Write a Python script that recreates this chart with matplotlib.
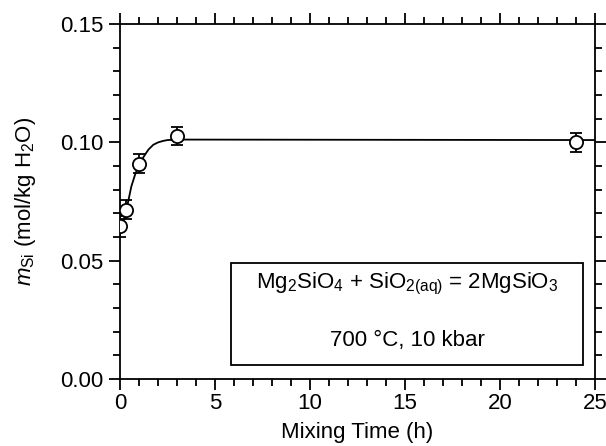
import matplotlib
matplotlib.use("Agg")
import matplotlib.pyplot as plt
from matplotlib.ticker import MultipleLocator, FormatStrFormatter

plt.rcParams['font.family'] = ['Liberation Sans', 'DejaVu Sans']
plt.rcParams['mathtext.fontset'] = 'custom'
plt.rcParams['mathtext.rm'] = 'Liberation Sans'
plt.rcParams['mathtext.it'] = 'Liberation Sans:italic'

# measured data
time_h = [0.0, 0.33, 1.0, 3.0, 24.0]
m_si = [0.0646, 0.0715, 0.0910, 0.1027, 0.1000]
m_err = [0.0045, 0.0040, 0.0040, 0.0040, 0.0040]

# fitted curve
curve_t = [0.0, 0.15, 0.33, 0.6, 0.8, 1.0, 1.25, 1.5, 1.75, 2.0, 2.25, 2.5, 3.0, 25.0]
curve_m = [0.0620, 0.0660, 0.0712, 0.0815, 0.0865, 0.0905, 0.0940, 0.0970,
           0.0990, 0.1000, 0.1006, 0.1010, 0.1012, 0.1010]

xticks = [0, 5, 10, 15, 20, 25]
yticks = [0.00, 0.05, 0.10, 0.15]

fig = plt.figure(figsize=(6.06, 4.46), dpi=100)
ax = fig.add_axes([0.198, 0.150, 0.784, 0.796])

ax.plot(curve_t, curve_m, color='black', lw=1.3, zorder=2)
ax.errorbar(time_h, m_si, yerr=m_err, fmt='o', mfc='white', mec='black',
            ms=9.5, mew=1.3, ecolor='black', elinewidth=1.3, capsize=4,
            capthick=1.6, zorder=3)

ax.set_xlim(0, 25)
ax.set_ylim(0, 0.15)
ax.set_xticks(xticks)
ax.set_yticks(yticks)
ax.xaxis.set_minor_locator(MultipleLocator(1))
ax.yaxis.set_minor_locator(MultipleLocator(0.01))
ax.yaxis.set_major_formatter(FormatStrFormatter('%.2f'))

for s in ax.spines.values():
    s.set_linewidth(1.3)

ax.tick_params(which='both', direction='out', top=True, right=True,
               labeltop=False, labelright=False, width=1.3, labelsize=16)
ax.tick_params(which='major', length=8)
ax.tick_params(which='minor', length=5)
ax.tick_params(axis='x', which='major', pad=2)
ax.tick_params(axis='y', which='major', pad=4)

ax.set_xlabel('Mixing Time (h)', fontsize=16, labelpad=6)
ax.set_ylabel(r'$m_{\mathrm{Si}}$ (mol/kg H$_2$O)', fontsize=16, labelpad=16)

# annotation box
ax.add_patch(plt.Rectangle((5.84, 0.0059), 18.5, 0.0431, fill=False,
                           ec='black', lw=1.3, zorder=1))
ax.text(15.1, 0.0400, r'Mg$_2$SiO$_4$ + SiO$_{2\mathrm{(aq)}}$ = 2MgSiO$_3$',
        ha='center', va='center', fontsize=16)
ax.text(15.1, 0.0165, '700 °C, 10 kbar', ha='center', va='center', fontsize=16)

fig.savefig('out.png', dpi=100)
